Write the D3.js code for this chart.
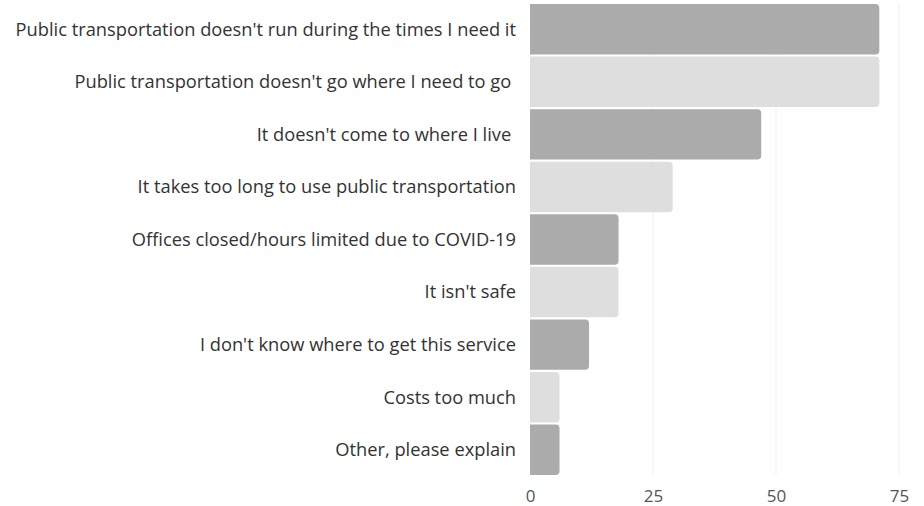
<!DOCTYPE html>
<html>
<head>
<meta charset="utf-8">
<script src="https://cdn.jsdelivr.net/npm/d3@7"></script>
<style>
  body { margin: 0; background: #fff; }
  text { font-family: "Open Sans", sans-serif; }
</style>
</head>
<body>
<div id="chart"><svg></svg></div>
<script>
// survey answers, top to bottom
var categories = [
  "Public transportation doesn't run during the times I need it",
  "Public transportation doesn't go where I need to go ",
  "It doesn't come to where I live ",
  "It takes too long to use public transportation",
  "Offices closed/hours limited due to COVID-19",
  "It isn't safe",
  "I don't know where to get this service",
  "Costs too much",
  "Other, please explain"
];
var counts = [71, 71, 47, 29, 18, 18, 12, 6, 6];
var tickValues = [0, 25, 50, 75];

var width = 924, height = 506;
var margin = {top: 4, right: 25, bottom: 31, left: 530};

var svg = d3.select("#chart").select("svg")
  .attr("width", width).attr("height", height);

var x = d3.scaleLinear()
  .domain([0, 75])
  .range([margin.left, width - margin.right]);

var y = d3.scaleBand()
  .domain(categories)
  .range([margin.top, height - margin.bottom])
  .paddingInner(0.04);

// faint vertical grid
svg.append("g")
  .selectAll("line")
  .data(tickValues.slice(1))
  .enter().append("line")
  .attr("x1", function(d) { return x(d); })
  .attr("x2", function(d) { return x(d); })
  .attr("y1", margin.top)
  .attr("y2", height - margin.bottom)
  .attr("stroke", "#efefef")
  .attr("stroke-width", 1);

// bars with rounded right corners only
function barPath(x0, x1, y0, h, r) {
  r = Math.min(r, (x1 - x0) / 2);
  return "M" + x0 + "," + y0 +
    "H" + (x1 - r) +
    "Q" + x1 + "," + y0 + " " + x1 + "," + (y0 + r) +
    "V" + (y0 + h - r) +
    "Q" + x1 + "," + (y0 + h) + " " + (x1 - r) + "," + (y0 + h) +
    "H" + x0 + "Z";
}

svg.append("g")
  .selectAll("path")
  .data(counts)
  .enter().append("path")
  .attr("d", function(d, i) {
    return barPath(x(0), x(d), y(categories[i]), y.bandwidth(), 4);
  })
  .attr("fill", function(d, i) { return i % 2 === 0 ? "#ababab" : "#dedede"; });

// category labels
svg.append("g")
  .selectAll("text")
  .data(categories)
  .enter().append("text")
  .attr("x", x(0) - 14)
  .attr("y", function(d) { return y(d) + y.bandwidth() / 2; })
  .attr("dy", "0.35em")
  .attr("text-anchor", "end")
  .style("white-space", "pre")
  .attr("font-size", "18.3px")
  .attr("fill", "#333")
  .text(function(d) { return d; });

// bottom axis, labels only
var axis = svg.append("g")
  .attr("transform", "translate(0," + (height - margin.bottom) + ")")
  .call(d3.axisBottom(x).tickValues(tickValues).tickSize(0).tickPadding(15));
axis.select(".domain").remove();
axis.selectAll("text")
  .style("font-family", "'Open Sans', sans-serif")
  .attr("font-size", "17px")
  .attr("fill", "#555");
</script>
</body>
</html>
